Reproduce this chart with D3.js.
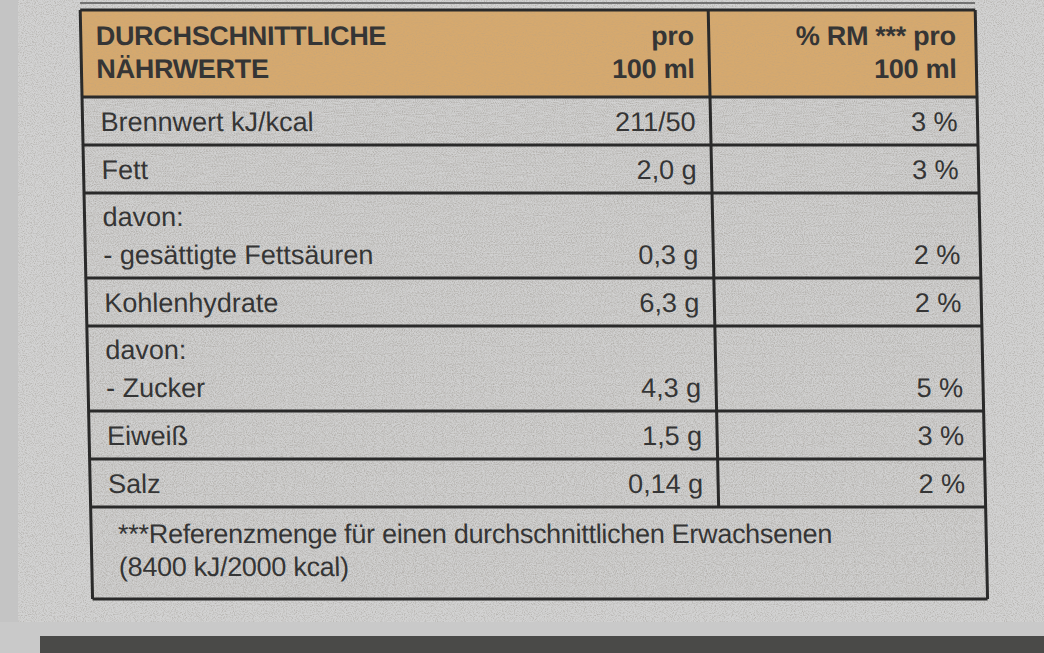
<!DOCTYPE html>
<html><head><meta charset="utf-8">
<script src="https://cdn.jsdelivr.net/npm/d3@7"></script>
<style>body{margin:0;background:#cfcfcf}svg{display:block}</style>
</head><body>
<svg width="1044" height="653"></svg>
<script>
// table content
const headerLabel = ["DURCHSCHNITTLICHE", "NÄHRWERTE"];
const headerPer = ["pro", "100 ml"];
const headerRM = ["% RM *** pro", "100 ml"];
const labels = [["Brennwert kJ/kcal"], ["Fett"], ["davon:", "- gesättigte Fettsäuren"], ["Kohlenhydrate"], ["davon:", "- Zucker"], ["Eiweiß"], ["Salz"]];
const amounts = ["211/50", "2,0 g", "0,3 g", "6,3 g", "4,3 g", "1,5 g", "0,14 g"];
const percents = ["3 %", "3 %", "2 %", "2 %", "5 %", "3 %", "2 %"];
const footnote = ["***Referenzmenge für einen durchschnittlichen Erwachsenen", "(8400 kJ/2000 kcal)"];

const svg = d3.select("svg");
const defs = svg.append("defs");
const f = defs.append("filter").attr("id", "speck").attr("x", 0).attr("y", 0).attr("width", 1).attr("height", 1);
f.append("feTurbulence").attr("type", "fractalNoise").attr("baseFrequency", 0.9).attr("numOctaves", 2).attr("seed", 3);
f.append("feColorMatrix").attr("values", "0 0 0 0 0.35  0 0 0 0 0.33  0 0 0 0 0.3  0 0 0 -2.2 1.25");
f.append("feComposite").attr("in2", "SourceGraphic").attr("operator", "in");

// page background
svg.append("rect").attr("width", 1044).attr("height", 653).attr("fill", "#d2d2d2");
svg.append("rect").attr("width", 1044).attr("height", 653).attr("fill", "#fff").attr("filter", "url(#speck)").attr("opacity", 0.6);
svg.append("rect").attr("x", 0).attr("y", 0).attr("width", 18).attr("height", 653).attr("fill", "#c4c4c4");
svg.append("rect").attr("x", 0).attr("y", 622).attr("width", 1044).attr("height", 31).attr("fill", "#c9c9c9");
svg.append("rect").attr("x", 40).attr("y", 636).attr("width", 1004).attr("height", 17).attr("fill", "#4a4a48");

const lineH = 38;
const rowH = labels.map(l => l.length === 1 ? 48 : 85);
const yStart = 97;
const ys = [yStart];
rowH.forEach((h, i) => ys.push(ys[i] + h));
const footTop = ys[ys.length - 1], footBottom = footTop + 92;

const x = d3.scaleLinear().domain([0, 1]).range([80, 975]);
const xDiv = 708, xLabel = 95, xAmt = 693, xPct = 955;

const g = svg.append("g").attr("transform", "skewX(1.2)");
const font = "'Liberation Sans', Arial, sans-serif";
const ink = "#353535";
const fs = 27;

// header
g.append("rect").attr("x", x(0)).attr("y", 10).attr("width", x(1) - x(0)).attr("height", yStart - 10).attr("fill", "#d6a96e");
g.append("rect").attr("x", x(0)).attr("y", 10).attr("width", x(1) - x(0)).attr("height", yStart - 10).attr("fill", "#fff").attr("filter", "url(#speck)").attr("opacity", 0.25);
g.append("rect").attr("x", x(0)).attr("y", yStart).attr("width", x(1) - x(0)).attr("height", footBottom - yStart).attr("fill", "#fff").attr("filter", "url(#speck)").attr("opacity", 0.5);

function lines(sel, arr, xx, y0, anchor, weight) {
  sel.append("text").attr("x", xx).attr("y", y0).attr("text-anchor", anchor)
    .attr("font-family", font).attr("font-size", fs).attr("font-weight", weight).attr("fill", ink)
    .attr("letter-spacing", -0.3)
    .selectAll("tspan").data(arr).join("tspan").attr("x", xx).attr("dy", (d, i) => i ? 33 : 0).text(d => d);
}
lines(g, headerLabel, xLabel, 45, "start", "bold");
lines(g, headerPer, xAmt, 45, "end", "bold");
lines(g, headerRM, xPct, 45, "end", "bold");

// rows
const rows = g.selectAll("g.row").data(labels).join("g").attr("class", "row");
rows.each(function(d, i) {
  const s = d3.select(this);
  const base = ys[i + 1] - 14;
  s.append("text").attr("x", xLabel).attr("y", base - (d.length - 1) * lineH)
    .attr("font-family", font).attr("font-size", fs).attr("fill", ink)
    .selectAll("tspan").data(d).join("tspan").attr("x", xLabel + 3).attr("dy", (t, j) => j ? lineH : 0).text(t => t);
  s.append("text").attr("x", xAmt).attr("y", base).attr("text-anchor", "end")
    .attr("font-family", font).attr("font-size", fs).attr("fill", ink).text(amounts[i]);
  s.append("text").attr("x", xPct).attr("y", base).attr("text-anchor", "end")
    .attr("font-family", font).attr("font-size", fs).attr("fill", ink).text(percents[i]);
});
lines(g, footnote, xLabel + 12, footTop + 36, "start", "normal");

// grid lines
const stroke = "#2a2a2a";
[10, ...ys, footBottom].forEach(y => g.append("line").attr("x1", x(0)).attr("x2", x(1)).attr("y1", y).attr("y2", y).attr("stroke", stroke).attr("stroke-width", 3));
g.append("line").attr("x1", x(0)).attr("x2", x(0)).attr("y1", 10).attr("y2", footBottom).attr("stroke", stroke).attr("stroke-width", 3);
g.append("line").attr("x1", x(1)).attr("x2", x(1)).attr("y1", 10).attr("y2", footBottom).attr("stroke", stroke).attr("stroke-width", 3);
g.append("line").attr("x1", xDiv).attr("x2", xDiv).attr("y1", 10).attr("y2", footTop).attr("stroke", stroke).attr("stroke-width", 3);
g.append("line").attr("x1", x(0)).attr("x2", x(1)).attr("y1", 3).attr("y2", 3).attr("stroke", "#555").attr("stroke-width", 1.5);
</script>
</body></html>
